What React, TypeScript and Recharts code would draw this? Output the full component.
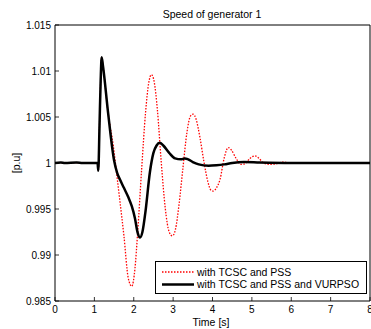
import React from 'react'
import { LineChart, Line, XAxis, YAxis } from 'recharts'

document.body.style.margin = '0'

const FONT = '"Liberation Sans", Arial, sans-serif'

// time / speed samples
const PSS_T = [0, 0.15, 0.25, 0.55, 0.7, 1.08, 1.1, 1.13, 1.16, 1.185, 1.22, 1.35, 1.48, 1.57, 1.65, 1.75, 1.86, 1.95, 2.03, 2.1, 2.2, 2.3, 2.38, 2.45, 2.52, 2.6, 2.7, 2.8, 2.9, 2.98, 3.06, 3.15, 3.25, 3.35, 3.44, 3.51, 3.58, 3.68, 3.78, 3.88, 3.96, 4.02, 4.1, 4.19, 4.3, 4.4, 4.48, 4.6, 4.72, 4.82, 4.95, 5.08, 5.18, 5.3, 5.45, 5.6, 5.8, 6.0, 6.3, 6.6, 7.0, 8]
const PSS_W = [1, 1.00005, 1, 1.00005, 1, 1, 0.99917, 1.004, 1.009, 1.0115, 1.0105, 1.0054, 1.0019, 0.9987, 0.9958, 0.9921, 0.9875, 0.9866, 0.9885, 0.9925, 0.9993, 1.0055, 1.0087, 1.0096, 1.0088, 1.0058, 1.0, 0.9951, 0.9925, 0.99208, 0.9928, 0.9955, 0.9995, 1.0033, 1.0051, 1.0053, 1.0048, 1.0028, 1.0002, 0.998, 0.99705, 0.99695, 0.9973, 0.9982, 1.0006, 1.00168, 1.0014, 1.0005, 0.99985, 0.9999, 1.0005, 1.00078, 1.0005, 1.0, 0.99985, 0.9999, 1.0001, 0.99995, 1.0, 0.99995, 1.00002, 1]

const VURPSO_T = [0, 0.15, 0.25, 0.55, 0.7, 1.08, 1.1, 1.13, 1.16, 1.185, 1.22, 1.35, 1.5, 1.58, 1.65, 1.75, 1.86, 1.95, 2.03, 2.1, 2.16, 2.22, 2.3, 2.41, 2.5, 2.58, 2.66, 2.75, 2.9, 3.05, 3.2, 3.3, 3.38, 3.5, 3.65, 3.9, 4.1, 4.3, 4.5, 4.8, 5.2, 6, 8]
const VURPSO_W = [1, 1.00005, 1, 1.00005, 1, 1, 0.99917, 1.004, 1.009, 1.0115, 1.0105, 1.0054, 1.0003, 0.9989, 0.9982, 0.9973, 0.9963, 0.9953, 0.994, 0.9924, 0.9919, 0.9925, 0.9948, 0.999, 1.0011, 1.0019, 1.0022, 1.0019, 1.0011, 1.0005, 1.0004, 1.0005, 1.0004, 1.0001, 0.99985, 0.9997, 0.99975, 0.99985, 1.0, 1.0001, 1.00005, 1.0, 1.0]

const X_TICKS = [0, 1, 2, 3, 4, 5, 6, 7, 8]
const Y_TICKS = [0.985, 0.99, 0.995, 1, 1.005, 1.01, 1.015]
const Y_LABELS = ['0.985', '0.99', '0.995', '1', '1.005', '1.01', '1.015']

const pssData = PSS_T.map((t, i) => ({ t, w: PSS_W[i] }))
const vurpsoData = VURPSO_T.map((t, i) => ({ t, w: VURPSO_W[i] }))

const TICK = 4

const BottomTick = ({ x, y, payload }: any) => (
  <g>
    <line x1={x} x2={x} y1={y} y2={y - TICK} stroke="#000" strokeWidth={0.8} />
    <text x={x} y={y + 12} textAnchor="middle" fontSize={10} fontFamily={FONT} fill="#000">
      {payload.value}
    </text>
  </g>
)

const TopTick = ({ x, y }: any) => (
  <line x1={x} x2={x} y1={y} y2={y + TICK} stroke="#000" strokeWidth={0.8} />
)

const LeftTick = ({ x, y, payload, index }: any) => (
  <g>
    <line x1={x} x2={x + TICK} y1={y} y2={y} stroke="#000" strokeWidth={0.8} />
    <text x={x - 4} y={y + 3.5} textAnchor="end" fontSize={10} fontFamily={FONT} fill="#000">
      {Y_LABELS[index] ?? payload.value}
    </text>
  </g>
)

const RightTick = ({ x, y }: any) => (
  <line x1={x} x2={x - TICK} y1={y} y2={y} stroke="#000" strokeWidth={0.8} />
)

const LegendBox = () => (
  <div
    style={{
      position: 'absolute',
      left: 155,
      top: 261,
      width: 212,
      height: 33,
      border: '1px solid #000',
      background: '#fff',
      fontFamily: FONT,
      fontSize: 10.5,
      boxSizing: 'border-box',
    }}
  >
    <svg width={40} height={32} style={{ position: 'absolute', left: 0, top: 0 }}>
      <line x1={6} x2={38} y1={10} y2={10} stroke="#ff0000" strokeWidth={1.3} strokeDasharray="1.5 1.5" />
      <line x1={6} x2={38} y1={22.5} y2={22.5} stroke="#000" strokeWidth={2.5} />
    </svg>
    <div style={{ position: 'absolute', left: 41, top: 4.5, lineHeight: '11px', whiteSpace: 'nowrap' }}>with TCSC and PSS</div>
    <div style={{ position: 'absolute', left: 41, top: 17, lineHeight: '11px', whiteSpace: 'nowrap' }}>with TCSC and PSS and VURPSO</div>
  </div>
)

export default function App() {
  return (
    <div style={{ position: 'relative', width: 371, height: 329, background: '#fff', fontFamily: FONT }}>
      <LineChart width={371} height={329} margin={{ top: 24, right: 0, bottom: 8, left: 10 }}>
        <XAxis
          xAxisId="b"
          dataKey="t"
          type="number"
          domain={[0, 8]}
          ticks={X_TICKS}
          interval={0}
          height={20}
          tickSize={0}
          tickMargin={0}
          tick={BottomTick}
          axisLine={{ stroke: '#000', strokeWidth: 1 }}
          allowDataOverflow
        />
        <XAxis
          xAxisId="top"
          orientation="top"
          dataKey="t"
          type="number"
          domain={[0, 8]}
          ticks={X_TICKS}
          interval={0}
          height={1}
          tickSize={0}
          tickMargin={0}
          tick={TopTick}
          axisLine={{ stroke: '#000', strokeWidth: 1 }}
        />
        <YAxis
          yAxisId="l"
          type="number"
          domain={[0.985, 1.015]}
          ticks={Y_TICKS}
          interval={0}
          width={45}
          tickSize={0}
          tickMargin={0}
          tick={LeftTick}
          axisLine={{ stroke: '#000', strokeWidth: 1 }}
          allowDataOverflow
        />
        <YAxis
          yAxisId="r"
          orientation="right"
          type="number"
          domain={[0.985, 1.015]}
          ticks={Y_TICKS}
          interval={0}
          width={1}
          tickSize={0}
          tickMargin={0}
          tick={RightTick}
          axisLine={{ stroke: '#000', strokeWidth: 1 }}
        />
        <Line
          xAxisId="b"
          yAxisId="l"
          data={pssData}
          dataKey="w"
          type="monotone"
          stroke="#ff0000"
          strokeWidth={1.3}
          strokeDasharray="1.5 1.5"
          dot={false}
          isAnimationActive={false}
        />
        <Line
          xAxisId="b"
          yAxisId="l"
          data={vurpsoData}
          dataKey="w"
          type="monotone"
          stroke="#000"
          strokeWidth={2.5}
          dot={false}
          isAnimationActive={false}
        />
      </LineChart>
      <LegendBox />
      <div style={{ position: 'absolute', left: 0, width: 424, top: 9, fontSize: 10.5, lineHeight: '11px', textAlign: 'center' }}>
        Speed of generator 1
      </div>
      <div style={{ position: 'absolute', left: 0, width: 422, top: 317, fontSize: 10.5, lineHeight: '11px', textAlign: 'center' }}>
        Time [s]
      </div>
      <div
        style={{
          position: 'absolute',
          left: 15.5,
          top: 162.5,
          fontSize: 10.5,
          lineHeight: '11px',
          whiteSpace: 'nowrap',
          transform: 'translate(-50%, -50%) rotate(-90deg)',
        }}
      >
        [p.u]
      </div>
    </div>
  )
}
